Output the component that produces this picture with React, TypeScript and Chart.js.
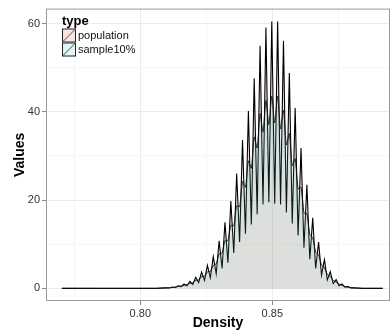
import React, { useEffect, useRef } from 'react';
import { Chart, registerables } from 'chart.js';
Chart.register(...registerables);

// Density positions (peaks and troughs alternate in the oscillating region)
const densityX = [
  0.7703, 0.806,
  0.80991, 0.81102, 0.81213, 0.81324, 0.81434, 0.81545, 0.81656, 0.81767,
  0.81878, 0.81989, 0.82099, 0.8221, 0.82321, 0.82432, 0.82542, 0.82653,
  0.82764, 0.82875, 0.82986, 0.83097, 0.83207, 0.83318, 0.83429, 0.8354,
  0.8365, 0.83761, 0.83872, 0.83983, 0.84094, 0.84205, 0.84315, 0.84426,
  0.84537, 0.84648, 0.84758, 0.84869, 0.8498, 0.85091, 0.85202, 0.85313,
  0.85423, 0.85534, 0.85645, 0.85756, 0.85866, 0.85977, 0.86088, 0.86199,
  0.8631, 0.86421, 0.86531, 0.86642, 0.86753, 0.86864, 0.86974, 0.87085,
  0.87196, 0.87307, 0.87418, 0.87529, 0.87639, 0.8775, 0.87861, 0.87972,
  0.88082,
  0.884, 0.8918,
];

const populationY = [
  0, 0,
  0.15, 0.1, 0.3, 0.2, 0.6, 0.4, 1.0, 0.6,
  1.6, 0.9, 2.5, 1.3, 3.7, 1.8, 5.2, 2.4,
  7.2, 3.3, 10.8, 4.5, 15.0, 5.8, 19.8, 8.0,
  26.0, 10.5, 33.6, 12.4, 40.2, 14.5, 47.6, 16.8,
  55.0, 19.0, 59.1, 19.5, 60.5, 19.2, 60.5, 19.0,
  56.1, 17.2, 48.8, 14.7, 40.9, 12.0, 31.8, 9.2,
  23.5, 6.6, 16.0, 4.5, 10.5, 3.0, 6.5, 1.9,
  3.8, 1.1, 2.0, 0.6, 1.0, 0.3, 0.4, 0.12,
  0.15,
  0, 0,
];

const sample10Y = [
  0, 0,
  0.11, 0.14, 0.22, 0.28, 0.43, 0.5, 0.72, 0.81,
  1.15, 1.27, 1.8, 1.92, 2.66, 2.76, 3.74, 3.84,
  5.18, 5.58, 7.78, 8.0, 10.8, 10.8, 14.3, 14.2,
  18.7, 18.5, 24.2, 22.9, 28.9, 27.2, 34.3, 31.8,
  39.6, 35.4, 42.6, 37.1, 43.6, 37.5, 43.6, 36.1,
  40.4, 32.5, 35.1, 27.8, 29.4, 22.5, 22.9, 17.1,
  16.9, 12.2, 11.5, 8.2, 7.6, 5.3, 4.7, 3.2,
  2.7, 1.8, 1.44, 0.93, 0.72, 0.43, 0.29, 0.17,
  0.11,
  0, 0,
];

const xMajorTicks = [0.8, 0.85];
const xMinorTicks = [0.775, 0.825, 0.875];
const yMajorTicks = [0, 20, 40, 60];
const yMinorTicks = [10, 30, 50];
const seriesNames = ['population', 'sample10%'];
const legendTitle = 'type';
const xTitle = 'Density';
const yTitle = 'Values';

const FONT = '"Liberation Sans", Arial, Helvetica, sans-serif';
const popFill = 'rgba(240,120,100,0.2)';
const sampleFill = 'rgba(48,195,195,0.15)';
const popKey = 'rgb(252,228,224)';
const sampleKey = 'rgb(224,246,246)';

const isIn = (v: number, arr: number[]) => arr.some((a) => Math.abs(a - v) < 1e-9);

const decorPlugin = {
  id: 'decor',
  afterDraw(chart: any) {
    const { ctx, chartArea: a } = chart;
    ctx.save();
    ctx.strokeStyle = '#9a9a9a';
    ctx.lineWidth = 1;
    ctx.strokeRect(a.left + 0.5, a.top + 0.5, a.right - a.left - 1, a.bottom - a.top - 1);

    ctx.fillStyle = '#000';
    ctx.font = `bold 14px ${FONT}`;
    ctx.textAlign = 'center';
    ctx.textBaseline = 'middle';
    ctx.fillText(xTitle, (a.left + a.right) / 2, 323);
    ctx.save();
    ctx.translate(20, (a.top + a.bottom) / 2);
    ctx.rotate(-Math.PI / 2);
    ctx.fillText(yTitle, 0, 0);
    ctx.restore();

    // legend
    ctx.textAlign = 'left';
    ctx.font = `bold 13px ${FONT}`;
    ctx.fillText(legendTitle, 62, 21);
    const keys = [popKey, sampleKey];
    ctx.font = `11px ${FONT}`;
    keys.forEach((c, i) => {
      const x = 62;
      const y = 28.5 + i * 14;
      ctx.fillStyle = c;
      ctx.fillRect(x, y, 14, 14);
      ctx.strokeStyle = '#222';
      ctx.lineWidth = 1;
      ctx.strokeRect(x + 0.5, y + 0.5, 13, 13);
      ctx.beginPath();
      ctx.moveTo(x + 1, y + 13);
      ctx.lineTo(x + 13, y + 1);
      ctx.lineWidth = 0.8;
      ctx.stroke();
      ctx.fillStyle = '#111';
      ctx.fillText(seriesNames[i], 78, y + 7.3);
    });
    ctx.restore();
  },
};

export default function App() {
  const ref = useRef<HTMLCanvasElement | null>(null);
  useEffect(() => {
    if (!ref.current) return;
    const pts = (ys: number[]) => densityX.map((x, i) => ({ x, y: ys[i] }));
    const chart = new Chart(ref.current, {
      type: 'line',
      data: {
        datasets: [
          {
            label: seriesNames[0],
            data: pts(populationY),
            borderColor: '#000',
            borderWidth: 1.1,
            backgroundColor: popFill,
            fill: 'origin',
            pointRadius: 0,
            tension: 0,
            order: 1,
          },
          {
            label: seriesNames[1],
            data: pts(sample10Y),
            borderColor: '#111',
            borderWidth: 0.9,
            backgroundColor: sampleFill,
            fill: 'origin',
            pointRadius: 0,
            tension: 0.2,
            order: 0,
          },
        ],
      },
      options: {
        animation: false,
        responsive: false,
        layout: { padding: { top: 6, right: 1, left: 0, bottom: 0 } },
        plugins: { legend: { display: false }, tooltip: { enabled: false } },
        scales: {
          x: {
            type: 'linear',
            min: 0.76428,
            max: 0.89458,
            afterBuildTicks: (s: any) => {
              s.ticks = [...xMinorTicks, ...xMajorTicks].sort((p, q) => p - q).map((v) => ({ value: v }));
            },
            afterFit: (s: any) => {
              s.height = 32;
            },
            ticks: {
              autoSkip: false,
              maxRotation: 0,
              padding: 2,
              color: '#333',
              font: { size: 11, family: FONT },
              callback: (v: any) => (isIn(Number(v), xMajorTicks) ? Number(v).toFixed(2) : ''),
            },
            grid: {
              color: (c: any) => (isIn(c.tick.value, xMajorTicks) ? '#ebebeb' : '#f5f5f5'),
              tickColor: (c: any) => (isIn(c.tick.value, xMajorTicks) ? '#8a8a8a' : 'rgba(0,0,0,0)'),
              tickLength: 4,
            },
            border: { display: false },
          },
          y: {
            type: 'linear',
            min: -2.86,
            max: 63.4,
            afterBuildTicks: (s: any) => {
              s.ticks = [...yMajorTicks, ...yMinorTicks].sort((p, q) => p - q).map((v) => ({ value: v }));
            },
            afterFit: (s: any) => {
              s.width = 46;
            },
            ticks: {
              autoSkip: false,
              padding: 2,
              color: '#333',
              font: { size: 11, family: FONT },
              callback: (v: any) => (isIn(Number(v), yMajorTicks) ? String(v) : ''),
            },
            grid: {
              color: (c: any) => (isIn(c.tick.value, yMajorTicks) ? '#ebebeb' : '#f5f5f5'),
              tickColor: (c: any) => (isIn(c.tick.value, yMajorTicks) ? '#8a8a8a' : 'rgba(0,0,0,0)'),
              tickLength: 4,
            },
            border: { display: false },
          },
        },
      },
      plugins: [decorPlugin],
    });
    return () => chart.destroy();
  }, []);
  return (
    <div style={{ position: 'fixed', left: 0, top: 0, width: 391, height: 333, background: '#fff' }}>
      <canvas ref={ref} width={391} height={333} style={{ width: 391, height: 333, display: 'block' }} />
    </div>
  );
}
